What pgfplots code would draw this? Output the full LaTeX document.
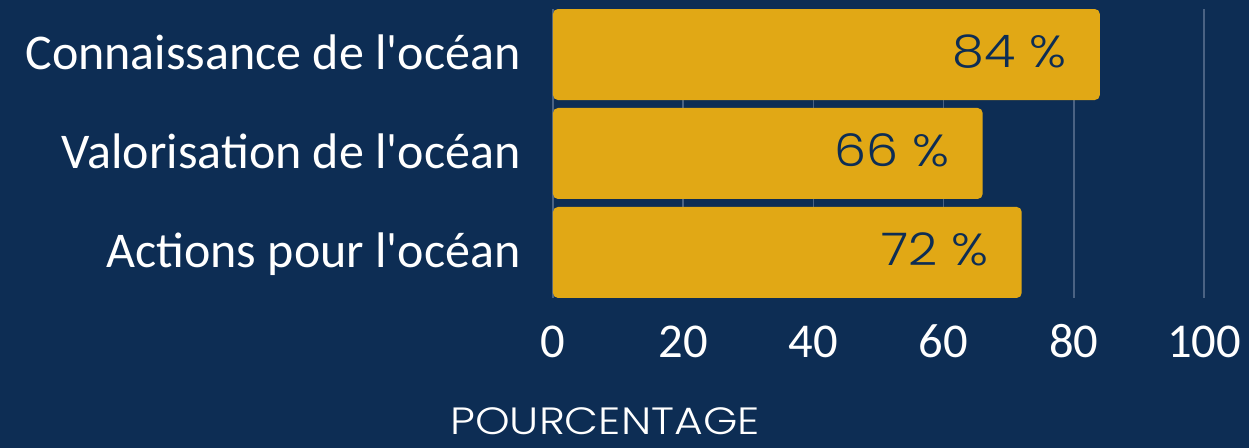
\documentclass[border=0pt]{standalone}
\usepackage{fontspec}
\setmainfont{Carlito}
\newfontfamily\popv{Poppins Light}[FakeStretch=1.13]
\newfontfamily\popl{Poppins Light}[FakeStretch=1.16]
\usepackage{pgfplots}
\pgfplotsset{compat=1.18}
\definecolor{bgnavy}{HTML}{0D2D54}
\definecolor{bargold}{HTML}{E1A815}
\definecolor{gridblue}{HTML}{4A6283}

\begin{document}
\begin{tikzpicture}
% 1 px of the reference = 0.5pt
\fill[bgnavy] (0,0) rectangle (624.5pt,224pt);
\path[use as bounding box] (0,0) rectangle (624.5pt,224pt);
\begin{axis}[
    at={(276.5pt,75pt)}, anchor=south west,
    scale only axis,
    width=325.5pt, height=144.5pt,
    xbar, bar width=45.5pt,
    xmin=0, xmax=100,
    ymin=-0.46, ymax=2.46,
    xtick={0,20,40,60,80,100},
    ytick={0,1,2},
    yticklabels={Actions pour l\textquotesingle océan, Valorisation de l\textquotesingle océan, Connaissance de l\textquotesingle océan},
    axis line style={draw=none},
    major tick length=0pt,
    xmajorgrids,
    grid style={gridblue, line width=0.75pt},
    /pgf/number format/assume math mode=true,
    xticklabel style={font=\fontsize{24.3}{28}\selectfont, text=white, anchor=base, inner sep=0pt, yshift=-30pt},
    yticklabel style={font=\fontsize{25}{29}\selectfont, text=white, anchor=base east, inner sep=0pt, xshift=-16pt, yshift=-7.5pt},
    nodes near coords={\pgfmathprintnumber[assume math mode=true]{\pgfplotspointmeta}~\%},
    every node near coord/.append style={font=\popv\fontsize{22.5}{26}\selectfont, text=bgnavy, anchor=base east, inner sep=0pt, xshift=-16.5pt, yshift=-6.5pt},
]
\addplot[fill=bargold, draw=none, rounded corners=2.5pt] coordinates {
    (72,0)
    (66,1)
    (84,2)
};
\end{axis}
\node[anchor=base, text=white, font=\popl\fontsize{19}{22}\selectfont, inner sep=0pt] at (302.5pt,6.5pt) {POURCENTAGE};
\end{tikzpicture}
\end{document}
